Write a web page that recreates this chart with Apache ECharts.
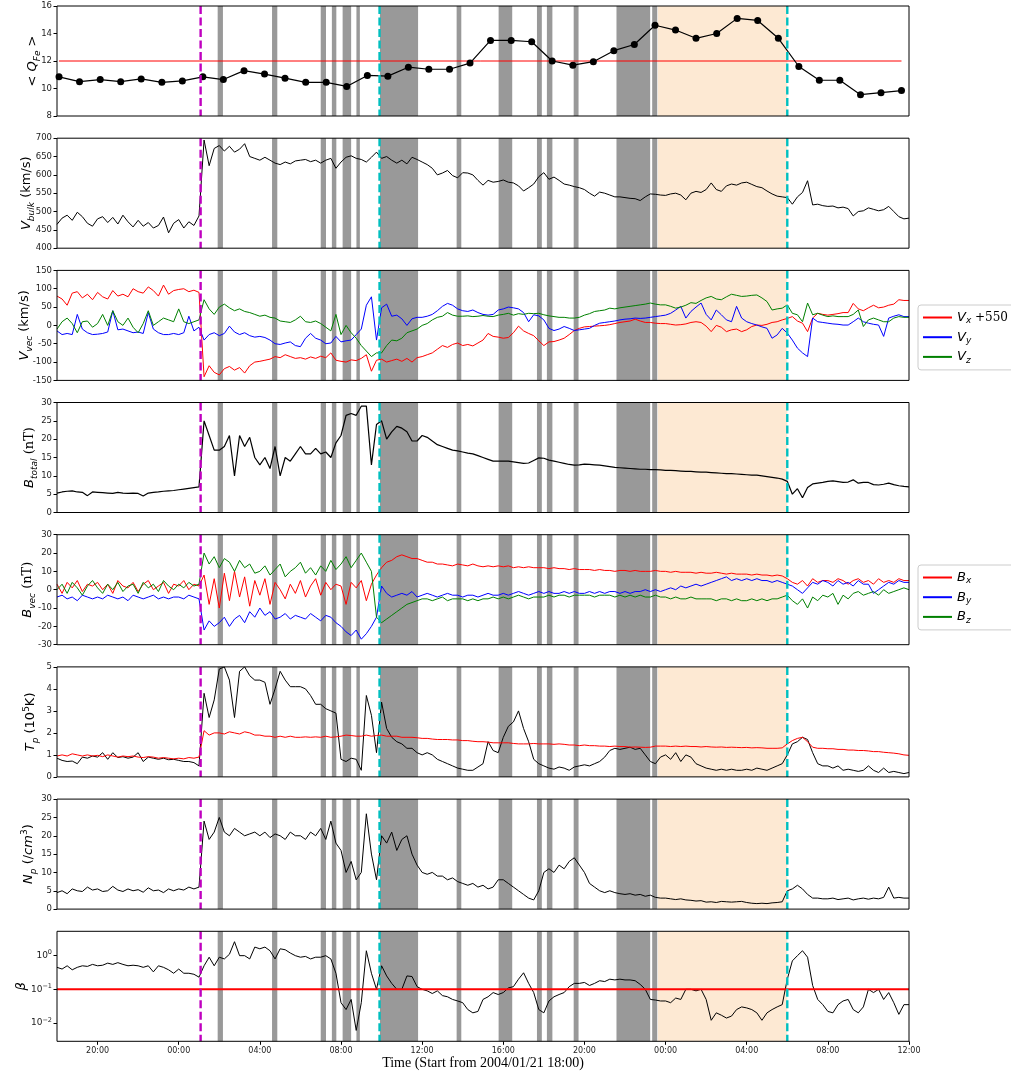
<!DOCTYPE html>
<html><head><meta charset="utf-8">
<script src="https://cdn.jsdelivr.net/npm/echarts@6/dist/echarts.min.js"></script>
<style>html,body{margin:0;padding:0;background:#fff}#c{width:1011px;height:1078px}</style>
</head><body><div id="c"></div><script>
// ---- time axis (hours since 2004/01/21 18:00) ----
const DT = 0.25; // sampling step of the dense series, hours
const xTicks = [2, 6, 10, 14, 18, 22, 26, 30, 34, 38, 42];
const xTickLabels = ['20:00', '00:00', '04:00', '08:00', '12:00', '16:00', '20:00', '00:00', '04:00', '08:00', '12:00'];

// ---- events ----
const grayBands = [[7.92, 8.18], [10.6, 10.86], [13.0, 13.26], [13.55, 13.77], [14.08, 14.5], [14.76, 14.93],
  [15.92, 17.8], [19.7, 19.93], [21.77, 22.44], [23.66, 23.9], [24.15, 24.42], [25.47, 25.71], [27.58, 29.24], [29.34, 29.59]];
const mcRegion = [[29.62, 36.0]];
const shockTime = [7.08];
const boundaryTimes = [15.9, 36.0];

// ---- panel 1: <Q_Fe> ----
const qTimes = [0.10, 1.11, 2.13, 3.14, 4.15, 5.17, 6.18, 7.19, 8.20, 9.22, 10.23, 11.24, 12.26, 13.27, 14.28, 15.30, 16.31,
  17.32, 18.33, 19.35, 20.36, 21.37, 22.39, 23.40, 24.41, 25.43, 26.44, 27.45, 28.46, 29.48, 30.49, 31.50, 32.52, 33.53,
  34.54, 35.56, 36.57, 37.58, 38.59, 39.61, 40.62, 41.63];
const qFe = [10.85, 10.5, 10.65, 10.5, 10.7, 10.45, 10.55, 10.85, 10.65, 11.3, 11.05, 10.75, 10.45, 10.45, 10.15, 10.95,
  10.9, 11.55, 11.4, 11.4, 11.85, 13.5, 13.5, 13.4, 12.0, 11.7, 11.95, 12.75, 13.2, 14.6, 14.25, 13.65, 14.0, 15.1, 14.95,
  13.65, 11.6, 10.6, 10.6, 9.55, 9.7, 9.85];
const qThreshold = 12;

// ---- panel 2: V bulk (km/s), every 0.25 h ----
const vBulk = [
  465,482,490,476,498,486,468,460, 480,486,470,484,466,490,472,458, 476,460,470,455,462,485,442,468,
  478,455,472,462,488,695,625,672, 680,665,678,662,670,685,650,645, 640,648,640,632,628,635,630,638,
  640,642,636,640,632,640,645,618, 635,648,652,645,642,635,648,662, 645,650,640,632,640,630,648,642,
  635,628,618,600,605,612,598,592, 606,605,600,585,572,585,580,582, 586,580,578,570,556,565,575,595,
  606,588,594,585,575,572,568,565, 560,550,542,553,550,545,540,540, 538,536,535,530,540,548,547,545,
  544,548,550,545,532,550,555,552, 560,578,560,555,570,575,572,578, 580,574,568,565,556,548,542,540,
  538,520,540,552,584,518,520,516, 514,515,510,512,508,488,500,502, 510,506,502,505,514,500,486,480, 482];

// ---- panel 3: V components (km/s) ----
const vx550 = [
  80,72,55,88,92,75,85,70, 90,78,72,95,80,85,78,100, 92,88,105,95,80,110,85,95,
  98,100,92,96,90,-140,-110,-128, -135,-118,-112,-122,-115,-130,-110,-100, -98,-95,-92,-85,-88,-80,-85,-90,
  -88,-92,-86,-90,-84,-88,-75,-95, -98,-100,-94,-96,-90,-80,-125,-95, -92,-100,-96,-92,-98,-90,-100,-88,
  -85,-80,-75,-65,-55,-60,-52,-48, -55,-52,-56,-48,-40,-22,-30,-32, -35,-33,-20,-2,-15,-22,-28,-42,
  -55,-45,-44,-40,-35,-25,-14,-8, -4,-3,-2,-1,0,2,5,8, 10,12,17,12,8,8,6,5,
  5,3,1,2,4,8,10,8, -2,-17,0,-5,-17,-12,-10,-17, -12,-3,1,0,3,8,10,15,
  19,24,12,6,-17,20,33,30, 28,30,32,35,35,60,45,40, 48,55,48,50,55,58,70,68, 68];
const vy = [
  -15,-25,-22,-25,30,-10,-20,-25, -24,-22,-18,40,-12,-10,-15,-20, -18,-22,35,-10,-20,-25,-25,-22,
  -25,-20,25,-15,-5,-40,-25,-20, -28,-22,-2,-18,-25,-20,-28,-32, -30,-33,-40,-50,-52,-48,-45,-55,
  -58,-35,-22,-35,-40,-50,-48,-30, -45,-42,-40,-25,-10,55,78,-40, 48,58,25,28,18,0,18,22,
  22,25,30,40,52,60,55,45, 40,38,42,35,30,28,30,42, 45,50,48,45,35,10,29,26,
  15,-8,-14,-10,-3,-8,-14,-12, -10,-8,0,6,8,10,12,15, 17,18,20,19,20,22,24,26,
  28,33,42,52,20,38,50,61, 30,15,42,29,15,10,52,20, 10,5,1,-4,-8,-35,-26,-8,
  -21,-40,-62,-75,-85,20,10,8, 6,4,3,1,1,10,20,10, 6,3,1,-30,20,25,29,24, 24];
const vz = [
  -10,10,20,5,-20,10,12,-5, 5,30,0,40,10,0,20,-5, -20,5,40,0,10,20,15,10,
  45,10,5,10,15,70,45,30, 50,58,48,40,45,38,35,30, 25,28,22,20,12,10,8,15,
  25,10,8,12,5,-5,-15,30, -25,0,-20,-35,-55,-70,-85,-75, -75,-55,-40,-42,-35,-20,-15,-10,
  0,5,15,22,25,35,28,25, 25,26,24,25,27,25,24,28, 30,33,28,32,30,33,32,33,
  29,26,24,22,22,20,20,22, 28,32,38,40,42,47,45,48, 50,52,54,56,58,61,58,56,
  56,52,47,50,55,62,60,68, 75,79,72,70,78,85,82,79, 80,82,83,75,65,42,45,47,
  56,33,29,10,61,29,33,28, 24,26,24,24,24,30,42,-3, 15,20,15,10,10,20,24,22, 22];

// ---- panel 4: B total (nT) ----
const bTotal = [
  5.3,5.6,5.8,5.9,5.6,5.5,4.6,5.6, 5.5,5.4,5.3,5.2,5.5,5.3,5.2,5.3, 5.2,4.5,5.3,5.5,5.6,5.8,5.9,6.0,
  6.2,6.4,6.6,6.8,7.0,25,21,17, 17,18,21,10,21,18,20.5,15, 13,15,12,18,10,15,14,16,
  18,16,16,17.5,16,16.5,15,19, 21,26.5,27,26.5,29,29,13,24, 25,20,22,23.5,23,22,19.5,19.5,
  21,20.5,19.5,18.5,18,17.5,17,16.8, 16.5,16.2,16,15.5,15,14.5,14,14, 14,14,13.8,13.6,13.4,13.5,14.2,14.9,
  14.8,14.3,14,13.7,13.4,13.1,12.9,13.0, 13.2,13.1,13.0,12.9,12.7,12.5,12.3,12.2, 12.1,12.0,11.9,11.8,11.8,11.7,11.7,11.6,
  11.5,11.5,11.4,11.3,11.2,11.2,11.1,11.0, 11.0,10.9,10.8,10.7,10.6,10.6,10.5,10.4, 10.3,10.2,10.2,10.0,9.8,9.6,9.4,9.1,
  8.5,5.0,6.5,4.0,6.8,7.8,8.0,8.2, 8.5,8.6,8.4,8.2,8.3,8.9,8.0,8.2, 8.2,7.6,7.5,7.7,8.0,7.6,7.3,7.1, 7.0];

// ---- panel 5: B components (nT) ----
const bx = [
  3,-2,4,1,5,-1,3,2, 4,0,3,-2,5,2,1,4, -1,3,5,0,2,4,-2,3,
  2,5,0,3,2,8,-8,6, -10,9,-6,10,-4,7,-9,5, -3,6,-8,4,0,-5,3,-2,
  5,-4,2,6,-3,4,0,3, 2,-8,4,1,5,-6,3,8, 12,15,16,18,19,18,17,17,
  16,15,15,14,14,13.5,13,14, 13.5,13,14,13,12.5,13,12.5,13, 12.5,13,12,12.5,12,12.5,12,12,
  12,11.5,12,11.5,11.5,11,11.5,11, 11,11,10.5,11,10.5,10.5,10,10.5, 10.5,10,10.5,10,10,10,10.5,10,
  10,9.5,10,9.5,9.5,9.5,9,9.5, 9,9,9.5,9,8.5,9,8.5,8.5, 8.5,8,8.5,8,8,7.5,8,7.5,
  6,4,3,5,2,6,4,5, 5,4,6,5,3,5,6,4, 5,3,6,4,5,4,6,5, 5];
const by = [
  -4,-3,-5,-4,-6,-3,-4,-5, -4,-5,-3,-4,-5,-4,-6,-3, -4,-5,-4,-3,-5,-4,-5,-4,
  -4,-5,-3,-4,-5,-22,-17,-20, -18,-15,-20,-16,-14,-18,-12,-15, -10,-14,-12,-16,-15,-13,-16,-14,
  -15,-16,-13,-15,-17,-14,-15,-18, -20,-23,-25,-22,-27,-24,-20,-15, 2,-2,-4,-3,-2,-3,-1,-4,
  -3,-2,-3,-4,-3,-2,-3,-3, -4,-3,-3,-4,-3,-2,-3,-3, -2,-3,-2,-1,-2,-3,-2,-1,
  -2,-1,-2,-2,-1,-2,-1,-2, -2,-1,-2,-1,-2,-1,-1,-2, -1,-2,-1,-1,0,-1,0,-1,
  0,1,0,2,1,2,3,2, 3,4,5,6,7,5,6,5, 6,5,6,5,5,4,5,4,
  3,2,0,-2,1,4,3,5, 4,2,5,3,4,2,5,3, 3,-2,0,2,4,3,5,4, 4];
const bz = [
  0,3,-2,4,1,-3,2,5, 1,-2,3,0,4,-1,2,3, -2,4,1,3,-1,5,2,0,
  3,1,4,2,3,20,14,18, 12,17,15,10,16,12,14,9, 10,13,8,11,14,7,10,12,
  15,9,12,8,13,10,16,11, 14,18,12,16,20,15,10,-15, -18,-16,-14,-12,-10,-8,-7,-6,
  -5,-5,-6,-5,-4,-6,-5,-5, -5,-6,-5,-6,-5,-5,-4,-5, -4,-5,-4,-3,-4,-5,-4,-4,
  -4,-3,-4,-3,-3,-4,-3,-3, -3,-3,-4,-3,-3,-3,-4,-3, -4,-3,-4,-3,-4,-4,-3,-4,
  -4,-5,-4,-5,-5,-4,-5,-5, -5,-5,-6,-5,-5,-6,-5,-6, -6,-5,-6,-5,-6,-5,-5,-4,
  -3,-6,-8,-5,-10,-4,-6,-3, -4,-2,-8,-3,-5,-2,-1,-3, -2,-1,-3,0,-2,-1,0,1, 0];

// ---- panel 6: Tp and expected Tp (1e5 K) ----
const tp = [
  0.85,0.75,0.7,0.72,0.6,0.9,0.85,0.95, 0.9,1.1,0.8,1.1,0.88,0.92,0.85,0.9, 1.1,0.7,0.9,0.85,0.8,0.85,0.78,0.8,
  0.75,0.7,0.7,0.65,0.5,3.8,2.7,3.5, 4.9,5.0,4.4,2.7,4.8,5.0,4.6,4.4, 4.4,4.3,3.3,4.0,4.8,4.4,4.1,4.1,
  4.1,4.0,3.7,3.3,3.3,3.1,3.0,2.9, 0.8,0.7,0.85,0.8,0.3,3.7,2.8,1.1, 3.4,2.2,1.8,1.6,1.5,1.3,1.3,1.1,
  1.0,1.1,1.0,0.8,0.7,0.6,0.5,0.4, 0.35,0.3,0.3,0.45,0.6,1.6,1.2,1.1, 1.8,2.3,2.5,3.0,2.2,1.6,0.8,0.6,
  0.5,0.4,0.35,0.45,0.4,0.3,0.45,0.5, 0.55,0.5,0.6,0.7,0.9,1.2,1.3,1.25, 1.3,1.35,1.25,1.3,1.0,0.7,0.6,0.9,
  1.0,0.8,1.1,0.7,1.0,0.9,0.6,0.5, 0.4,0.35,0.3,0.35,0.3,0.35,0.3,0.3, 0.35,0.3,0.4,0.35,0.3,0.4,0.5,0.6,
  1.0,1.5,1.6,1.8,1.7,1.1,0.6,0.5, 0.5,0.4,0.5,0.3,0.35,0.3,0.25,0.3, 0.5,0.3,0.2,0.4,0.2,0.25,0.2,0.15, 0.2];
const tExp = [
  0.95,1.0,0.95,1.05,1.0,0.95,1.0,0.95, 0.98,0.92,1.0,0.95,0.9,0.95,0.92,0.95, 0.9,0.88,0.92,0.9,0.85,0.88,0.85,0.82,
  0.85,0.82,0.88,0.85,0.9,2.1,1.9,2.0, 2.0,1.95,2.05,2.0,1.95,2.05,2.0,1.9, 1.9,1.85,1.85,1.8,1.85,1.8,1.85,1.8,
  1.8,1.82,1.8,1.82,1.8,1.85,1.8,1.82, 1.85,1.9,1.88,1.85,1.85,1.9,1.85,1.88, 1.9,1.85,1.85,1.85,1.8,1.8,1.8,1.78,
  1.75,1.75,1.72,1.7,1.7,1.7,1.68,1.68, 1.65,1.65,1.62,1.6,1.6,1.58,1.55,1.55, 1.55,1.55,1.52,1.5,1.5,1.5,1.52,1.5,
  1.5,1.5,1.48,1.5,1.48,1.45,1.45,1.42, 1.45,1.42,1.42,1.4,1.4,1.38,1.4,1.38, 1.38,1.35,1.36,1.35,1.34,1.35,1.4,1.4,
  1.4,1.38,1.4,1.38,1.4,1.38,1.38,1.36, 1.38,1.36,1.35,1.36,1.34,1.35,1.34,1.33, 1.34,1.32,1.33,1.32,1.3,1.3,1.3,1.32,
  1.5,1.65,1.75,1.8,1.6,1.35,1.3,1.3, 1.28,1.28,1.25,1.25,1.22,1.22,1.2,1.2, 1.18,1.15,1.15,1.12,1.1,1.08,1.05,1.0, 0.98];

// ---- panel 7: Np (/cm^3) ----
const np = [
  4.5,5.0,4.2,5.5,5.0,4.8,6.0,5.2, 5.5,4.8,5.0,6.2,5.2,4.8,5.5,5.0, 5.3,4.6,5.8,5.0,5.2,4.5,5.5,5.0,
  5.5,5.2,6.0,5.5,6.0,24,19,21, 25,21,20,22,21,20,20.5,21, 20,21,19.5,20.5,20,19,21,20,
  20,19,21,20,22,19,24,18, 16,10,13,8,10,26,15,8, 20,18,21,16,19,20,15,12,
  10,9.5,10,9,9,8,8.5,7.5, 7,6.5,7,6,6.5,5.5,6,8, 8,7,6,5,4,3,2.5,5,
  10,11,10,12,11,13,14,12, 10,7,6,5,4.5,5,4.5,4.2, 4.0,4.2,3.8,4.0,3.5,3.8,3.2,3.0,
  3.0,2.8,2.6,2.8,2.5,2.4,2.2,2.3, 1.9,2.0,1.8,2.1,2.0,1.9,2.0,2.1, 1.8,1.6,1.5,1.6,1.5,1.7,1.8,2.0,
  5,5.5,6.5,5.5,4,3,3,2.8, 2.8,3.0,2.6,2.8,3.0,2.5,2.8,3.0, 2.7,3.0,2.8,3.2,6,3,3.2,3.0, 3.0];

// ---- panel 8: plasma beta ----
const beta = [
  0.45,0.4,0.5,0.38,0.45,0.5,0.48,0.55, 0.5,0.52,0.6,0.55,0.62,0.55,0.5,0.52, 0.5,0.45,0.5,0.33,0.5,0.45,0.38,0.3,
  0.4,0.3,0.3,0.28,0.23,0.5,0.9,0.5, 0.9,0.8,1.1,2.6,1.0,1.0,0.8,1.8, 1.6,1.8,1.4,0.8,1.6,1.5,1.2,1.0,
  0.9,0.95,0.8,0.9,0.9,1.0,0.8,0.3, 0.04,0.025,0.05,0.006,0.04,1.4,0.3,0.1, 0.5,0.25,0.15,0.1,0.1,0.25,0.24,0.12,
  0.1,0.09,0.075,0.09,0.065,0.06,0.05,0.045, 0.04,0.025,0.02,0.022,0.05,0.06,0.08,0.07, 0.08,0.11,0.12,0.2,0.31,0.15,0.08,0.025,
  0.02,0.045,0.06,0.07,0.08,0.12,0.15,0.15, 0.16,0.13,0.15,0.18,0.17,0.2,0.19,0.2, 0.19,0.19,0.18,0.14,0.1,0.05,0.048,0.045,
  0.045,0.04,0.055,0.05,0.1,0.1,0.09,0.1, 0.05,0.012,0.02,0.017,0.014,0.016,0.025,0.03, 0.028,0.025,0.02,0.012,0.02,0.025,0.03,0.035,
  0.2,0.7,1.0,1.4,0.9,0.13,0.05,0.035, 0.022,0.02,0.035,0.045,0.05,0.025,0.02,0.03, 0.1,0.08,0.1,0.05,0.08,0.04,0.018,0.035, 0.035];
const betaThreshold = 0.1;

// ---- axes ----
const yTickValuesBeta = [0.01, 0.1, 1];

// ======================= chart =======================
const pts = arr => arr.map((v, i) => [i * DT, v]);
const RED = '#ff0000', BLUE = '#0000ff', GREEN = '#008000', MAG = '#bf00bf', CYAN = '#00bfbf';
const tops = [6, 138.2, 270.4, 402.5, 534.7, 666.9, 799.1, 931.3];
const yRef = [12, 550, 0, 15, 0, 2.5, 15, 1];
const rich = {
  m: {fontFamily: 'DejaVu Sans', fontSize: 13, fontStyle: 'italic', lineHeight: 18, color: '#000'},
  r: {fontFamily: 'DejaVu Sans', fontSize: 13, lineHeight: 18, color: '#000'},
  rs: {fontFamily: 'DejaVu Serif', fontSize: 13, lineHeight: 18, color: '#000'},
  sub: {fontFamily: 'DejaVu Sans', fontSize: 9, fontStyle: 'italic', lineHeight: 10, verticalAlign: 'bottom', color: '#000'},
  sup: {fontFamily: 'DejaVu Sans', fontSize: 9, lineHeight: 10, verticalAlign: 'top', color: '#000'}
};
const ySpec = [
  {min: 8, max: 16, interval: 2, name: '{r|< }{m|Q}{sub|Fe}{r| >}', gap: 15},
  {min: 400, max: 700, interval: 50, name: '{m|V}{sub|bulk}{r| (km/s)}', gap: 21},
  {min: -150, max: 150, interval: 50, name: '{m|V}{sub|vec}{r| (km/s)}', gap: 23},
  {min: 0, max: 30, interval: 5, name: '{m|B}{sub|total}{rs| (nT)}', gap: 18},
  {min: -30, max: 30, interval: 10, name: '{m|B}{sub|vec}{rs| (nT)}', gap: 20},
  {min: 0, max: 5, interval: 1, name: '{m|T}{sub|p}{r| (10}{sup|5}{r|K)}', gap: 17},
  {min: 0, max: 30, interval: 5, name: '{m|N}{sub|p}{r| (/}{m|cm}{sup|3}{r|)}', gap: 19},
  {log: true, min: 0.00285, max: 5.3, name: '{m|β}', gap: 26}
];

const grid = tops.map(t => ({left: 57, width: 852, top: t, height: 110, show: true, borderColor: '#000',
  borderWidth: 1, backgroundColor: 'transparent', z: 10}));

const xAxis = tops.map((t, i) => ({
  type: 'value', gridIndex: i, min: 0, max: 42,
  axisLine: {show: false}, splitLine: {show: false},
  axisTick: i === 7 ? {show: true, customValues: xTicks, length: 3.5, lineStyle: {color: '#000'}} : {show: false},
  axisLabel: i === 7 ? {show: true, customValues: xTicks, formatter: v => xTickLabels[xTicks.indexOf(v)],
    fontSize: 8, color: '#222', margin: 6, fontFamily: 'DejaVu Sans'} : {show: false},
  name: i === 7 ? 'Time (Start from 2004/01/21 18:00)' : '', nameLocation: 'middle', nameGap: 15,
  nameMoveOverlap: false,
  nameTextStyle: {fontFamily: 'Liberation Serif', fontSize: 14, color: '#000'}
}));

const yAxis = ySpec.map((s, i) => {
  const a = {
    gridIndex: i, min: s.min, max: s.max, splitLine: {show: false}, axisLine: {show: false},
    axisTick: {show: true, length: 3.5, lineStyle: {color: '#000'}},
    axisLabel: {fontSize: 8.5, color: '#222', margin: 5, fontFamily: 'DejaVu Sans'},
    name: s.name, nameLocation: 'middle', nameRotate: 90, nameGap: s.gap, nameMoveOverlap: false,
    nameTextStyle: {rich: rich}
  };
  if (s.log) {
    a.type = 'log';
    a.axisTick.customValues = yTickValuesBeta;
    a.axisLabel.customValues = yTickValuesBeta;
    a.axisLabel.formatter = v => { const e = Math.round(Math.log10(v)); return '10{e|' + (e < 0 ? '\u2212' : '') + Math.abs(e) + '}'; };
    a.axisLabel.lineHeight = 13;
    a.axisLabel.fontSize = 9;
    a.axisLabel.rich = {e: {fontSize: 6.5, lineHeight: 7, verticalAlign: 'top', color: '#222', fontFamily: 'DejaVu Sans'}};
  } else {
    a.type = 'value';
    a.interval = s.interval;
  }
  return a;
});

function rectItem(params, api) {
  const cs = params.coordSys;
  const a = api.coord([api.value(0), api.value(2)]);
  const b = api.coord([api.value(1), api.value(2)]);
  return {type: 'rect', shape: {x: a[0], y: cs.y, width: b[0] - a[0], height: cs.height}, style: {fill: api.visual('color')}};
}
function vlineItem(params, api) {
  const cs = params.coordSys;
  const a = api.coord([api.value(0), api.value(1)]);
  return {type: 'line', shape: {x1: a[0], y1: cs.y, x2: a[0], y2: cs.y + cs.height},
    style: {stroke: api.value(2) === 0 ? MAG : CYAN, lineWidth: 2.4, lineDash: [8, 3.5], fill: null}};
}

const series = [];
tops.forEach((t, i) => {
  series.push({type: 'custom', name: 'bands' + i, xAxisIndex: i, yAxisIndex: i, renderItem: rectItem, silent: true, z: 1,
    itemStyle: {color: '#999999'}, encode: {x: [0, 1], y: 2}, data: grayBands.map(b => [b[0], b[1], yRef[i]])});
  series.push({type: 'custom', name: 'mc' + i, xAxisIndex: i, yAxisIndex: i, renderItem: rectItem, silent: true, z: 1,
    itemStyle: {color: '#fde9d3'}, encode: {x: [0, 1], y: 2}, data: mcRegion.map(b => [b[0], b[1], yRef[i]])});
  const lines = shockTime.map(s => [s, yRef[i], 0]).concat(boundaryTimes.map(s => [s, yRef[i], 1]));
  series.push({type: 'custom', name: 'vl' + i, xAxisIndex: i, yAxisIndex: i, renderItem: vlineItem, silent: true, z: 4,
    encode: {x: 0, y: 1}, data: lines});
});

function line(name, idx, data, color, width, extra) {
  return Object.assign({type: 'line', name: name, xAxisIndex: idx, yAxisIndex: idx, data: data, showSymbol: false,
    symbol: 'none', color: color, itemStyle: {color: color}, lineStyle: {width: width || 1, color: color}, z: 2,
    animation: false, silent: true}, extra || {});
}

series.push(line('qline', 0, [[qTimes[0], qThreshold], [qTimes[qTimes.length - 1], qThreshold]], RED, 1));
series.push(line('QFe', 0, qTimes.map((tt, k) => [tt, qFe[k]]), '#000', 1.2,
  {showSymbol: true, symbol: 'circle', symbolSize: 7, z: 3}));
series.push(line('Vbulk', 1, pts(vBulk), '#000', 1));
series.push(line('Vx', 2, pts(vx550), RED, 1));
series.push(line('Vy', 2, pts(vy), BLUE, 1));
series.push(line('Vz', 2, pts(vz), GREEN, 1));
series.push(line('Btot', 3, pts(bTotal), '#000', 1.2));
series.push(line('Bx', 4, pts(bx), RED, 1));
series.push(line('By', 4, pts(by), BLUE, 1));
series.push(line('Bz', 4, pts(bz), GREEN, 1));
series.push(line('Tp', 5, pts(tp), '#000', 1));
series.push(line('Texp', 5, pts(tExp), RED, 1));
series.push(line('Np', 6, pts(np), '#000', 1));
series.push(line('beta', 7, pts(beta), '#000', 1));
series.push(line('bline', 7, [[0, betaThreshold], [42, betaThreshold]], RED, 2));

const legendText = {Vx: '{v|V}{s|x}{n| +550}', Vy: '{v|V}{s|y}', Vz: '{v|V}{s|z}', Bx: '{v|B}{s|x}', By: '{v|B}{s|y}', Bz: '{v|B}{s|z}'};
const legendRich = {
  v: {fontSize: 13, fontStyle: 'italic', fontFamily: 'DejaVu Sans', lineHeight: 16, color: '#000'},
  s: {fontSize: 9, fontStyle: 'italic', fontFamily: 'DejaVu Sans', lineHeight: 8, verticalAlign: 'bottom', color: '#000'},
  n: {fontSize: 12, fontFamily: 'DejaVu Serif', lineHeight: 16, color: '#000'}
};
function legend(names, top, padRight) {
  return {data: names, left: 918, top: top, orient: 'vertical', icon: 'rect', itemWidth: 29, itemHeight: 2, itemGap: 5.2,
    padding: [6, padRight, 5, 5], borderColor: '#cccccc', borderWidth: 1, borderRadius: 3, backgroundColor: '#fff',
    selectedMode: false, formatter: n => legendText[n], textStyle: {rich: legendRich}};
}

const chart = echarts.init(document.getElementById('c'), null, {renderer: 'canvas'});
chart.setOption({
  animation: false,
  backgroundColor: '#fff',
  textStyle: {fontFamily: 'DejaVu Sans'},
  grid: grid, xAxis: xAxis, yAxis: yAxis, series: series,
  legend: [legend(['Vx', 'Vy', 'Vz'], 305, 10), legend(['Bx', 'By', 'Bz'], 565, 45)]
});
</script></body></html>
